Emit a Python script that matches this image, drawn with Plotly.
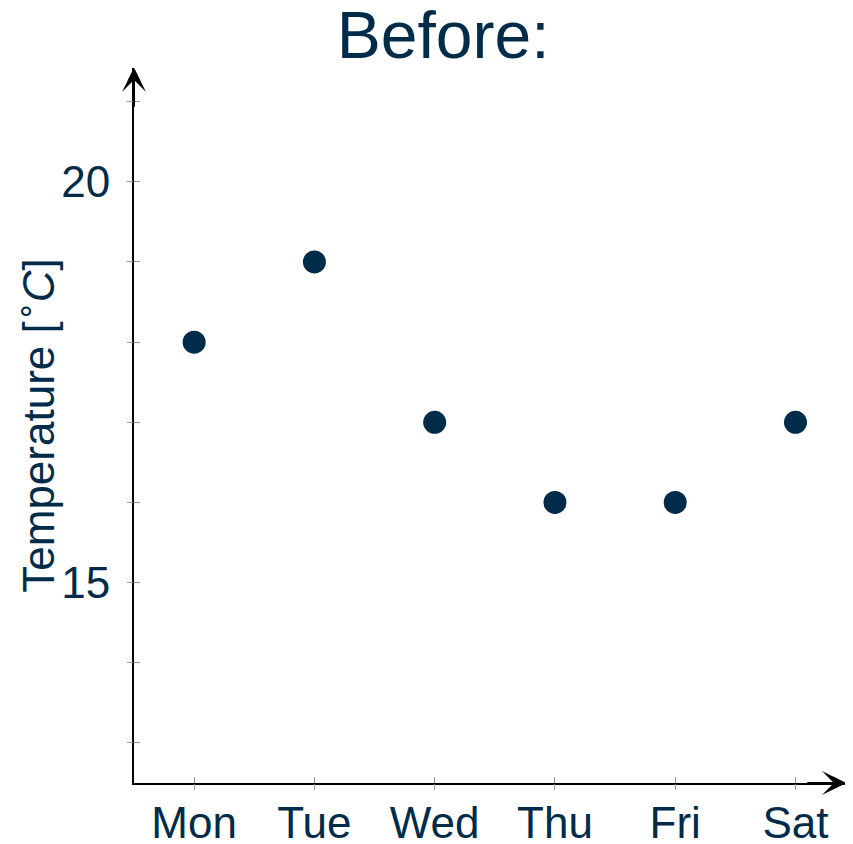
import plotly.graph_objects as go

days = ["Mon", "Tue", "Wed", "Thu", "Fri", "Sat"]
temps = [18, 19, 17, 16, 16, 17]
ytick_vals = [13, 14, 15, 16, 17, 18, 19, 20, 21]
ytick_text = ["", "", "15", "", "", "", "", "20", ""]

NAVY = "#002b49"
GRAY = "#9a9a9a"
FONT = "Liberation Sans"

fig = go.Figure()
fig.add_trace(go.Scatter(x=days, y=temps, mode="markers",
                         marker=dict(size=23, color=NAVY), showlegend=False))
# invisible trace for the overlaid axes (outside tick halves)
fig.add_trace(go.Scatter(x=days, y=temps, mode="markers", xaxis="x2", yaxis="y2",
                         marker=dict(size=1, opacity=0), showlegend=False, hoverinfo="skip"))

xrange = [-0.5, 5.42]
yrange = [12.5, 21.42]

fig.update_layout(
    width=845, height=836,
    margin=dict(l=126, r=7, t=60, b=61),
    paper_bgcolor="white", plot_bgcolor="white",
    font=dict(family=FONT, color=NAVY, size=44),
    title=dict(text="Before:", x=0.515, xanchor="center", y=0.9956, yanchor="top",
               automargin=False,
               font=dict(size=66, color=NAVY, family=FONT)),
    xaxis=dict(type="category", categoryorder="array", categoryarray=days,
               range=xrange, showgrid=False, zeroline=False, automargin=False,
               showline=True, linecolor="black", linewidth=2,
               ticks="inside", ticklen=6, tickwidth=1, tickcolor=GRAY,
               tickfont=dict(size=44, color=NAVY), ticklabelstandoff=0),
    yaxis=dict(range=yrange, showgrid=False, zeroline=False, automargin=False,
               showline=True, linecolor="black", linewidth=2,
               tickmode="array", tickvals=ytick_vals, ticktext=ytick_text,
               ticks="inside", ticklen=6, tickwidth=1, tickcolor=GRAY,
               tickfont=dict(size=44, color=NAVY), ticklabelstandoff=13,
               title=dict(text="Temperature [<sup>∘</sup><i>C</i>]", standoff=4,
                          font=dict(size=44, color=NAVY))),
    xaxis2=dict(type="category", categoryorder="array", categoryarray=days,
                range=xrange, overlaying="x", anchor="y2", side="bottom",
                showgrid=False, zeroline=False, showline=False, automargin=False,
                ticks="outside", ticklen=6, tickwidth=1, tickcolor=GRAY,
                showticklabels=False),
    yaxis2=dict(range=yrange, overlaying="y", anchor="x2", side="left",
                showgrid=False, zeroline=False, showline=False, automargin=False,
                tickmode="array", tickvals=ytick_vals,
                ticks="outside", ticklen=6, tickwidth=1, tickcolor=GRAY,
                showticklabels=False),
)

# arrowheads at the ends of the axes (stealth outline filled by a smaller triangle)
for head, size in [(3, 2.0), (2, 1.3)]:
    fig.add_annotation(x=0, y=1, xref="paper", yref="paper", ax=0, ay=40,
                       text="", showarrow=True, arrowhead=head, arrowsize=size,
                       arrowwidth=2, arrowcolor="black", standoff=0)
    fig.add_annotation(x=1, y=0, xref="paper", yref="paper", ax=-40, ay=0,
                       text="", showarrow=True, arrowhead=head, arrowsize=size,
                       arrowwidth=2, arrowcolor="black", standoff=0)

fig.write_html("out.html")
